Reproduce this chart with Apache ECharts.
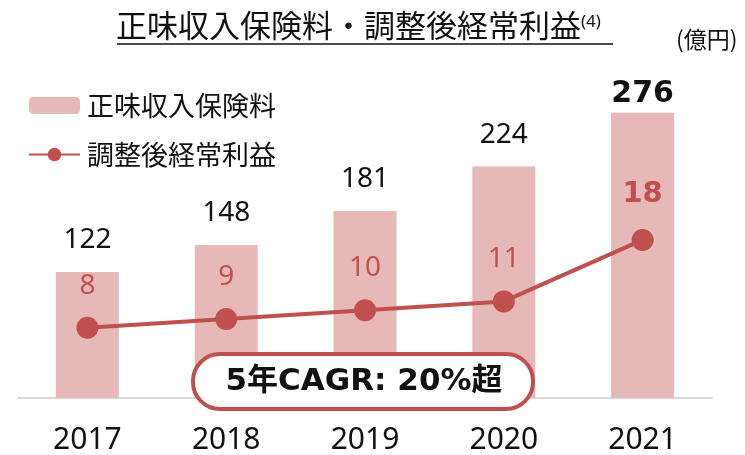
<!DOCTYPE html>
<html>
<head>
<meta charset="utf-8">
<script src="https://cdn.jsdelivr.net/npm/echarts@6/dist/echarts.min.js"></script>
<style>
  html, body { margin: 0; padding: 0; background: #fff; }
  #chart { width: 745px; height: 455px; }
</style>
</head>
<body>
<div id="chart"></div>
<script>
const years = ['2017', '2018', '2019', '2020', '2021']
const premiums = [122, 148, 181, 224, 276]
const profits = [8, 9, 10, 11, 18]

const RED = '#C0504D'
const PINK = '#E6B9B8'
const JP = '"Noto Sans", "Noto Sans CJK JP", sans-serif'
const CJK = '"Noto Sans CJK JP", sans-serif'
const BOLD = '"DejaVu Sans", "Noto Sans CJK JP", sans-serif'

const chart = echarts.init(document.getElementById('chart'))

const lastIdx = years.length - 1

const option = {
  animation: false,
  grid: { left: 18, right: 33, top: 88, bottom: 55 },
  legend: {
    orient: 'vertical',
    left: 28,
    top: 92,
    padding: 0,
    itemWidth: 51,
    itemHeight: 17,
    itemGap: 22,
    textStyle: { fontFamily: CJK, fontSize: 27, color: '#111', padding: [0, 0, 0, 2] },
    data: ['正味収入保険料', '調整後経常利益']
  },
  xAxis: {
    type: 'category',
    data: years,
    axisLine: { lineStyle: { color: '#D9D9D9', width: 2 } },
    axisTick: { show: false },
    axisLabel: { fontFamily: JP, fontSize: 30, color: '#111', margin: 27 }
  },
  yAxis: [
    { type: 'value', min: 0, max: 300, show: false },
    { type: 'value', min: 0, max: 35.3, show: false }
  ],
  graphic: [
    {
      type: 'text', left: 116, top: 10, z: 10,
      style: { text: '正味収入保険料・調整後経常利益', font: '31px ' + CJK, fill: '#111' }
    },
    {
      type: 'text', left: 581, top: 14, z: 10,
      style: { text: '(4)', font: '17px ' + JP, fill: '#111' }
    },
    {
      type: 'line', z: 10,
      shape: { x1: 117, y1: 44, x2: 613, y2: 44 },
      style: { stroke: '#111', lineWidth: 1.5 }
    },
    {
      type: 'text', left: 676, top: 28, z: 10,
      style: { text: '(億円)', font: '23px ' + CJK, fill: '#111' }
    },
    {
      type: 'rect', z: 100,
      shape: { x: 193, y: 354, width: 340, height: 55, r: 27 },
      style: { fill: '#fff', stroke: RED, lineWidth: 4 }
    },
    {
      type: 'text', z: 101,
      x: 364, y: 382,
      style: {
        text: '5年CAGR: 20%超',
        font: 'bold 31px ' + BOLD,
        fill: '#111',
        align: 'center',
        verticalAlign: 'middle'
      }
    }
  ],
  series: [
    {
      name: '正味収入保険料',
      type: 'bar',
      data: premiums.map((v, i) => i === lastIdx
        ? { value: v, label: { fontFamily: BOLD, fontWeight: 'bold', fontSize: 30, distance: 4 } }
        : v),
      barWidth: 63,
      itemStyle: { color: PINK },
      label: {
        show: true,
        position: 'top',
        distance: 18,
        fontFamily: JP,
        fontSize: 28,
        color: '#111'
      }
    },
    {
      name: '調整後経常利益',
      type: 'line',
      yAxisIndex: 1,
      data: profits.map((v, i) => i === lastIdx
        ? { value: v, label: { fontFamily: BOLD, fontWeight: 'bold', fontSize: 29, distance: 20 } }
        : v),
      symbol: 'circle',
      symbolSize: 22,
      lineStyle: { color: RED, width: 4 },
      itemStyle: { color: RED },
      label: {
        show: true,
        position: 'top',
        distance: 17,
        fontFamily: JP,
        fontSize: 28,
        color: RED
      }
    }
  ]
}

chart.setOption(option)
</script>
</body>
</html>
